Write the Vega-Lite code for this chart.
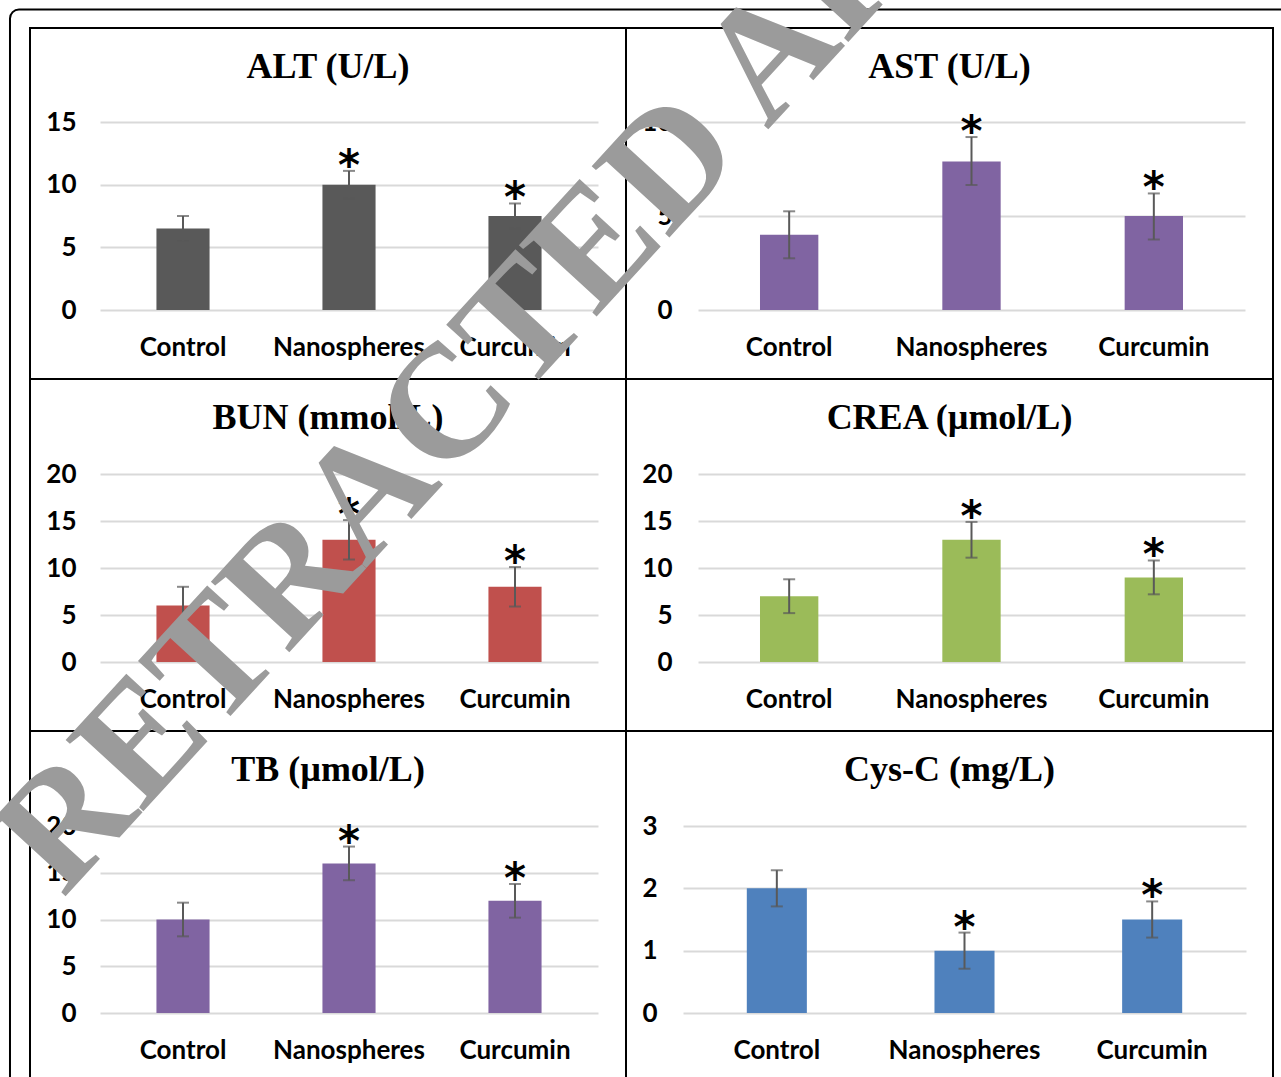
{
  "$schema": "https://vega.github.io/schema/vega-lite/v6.json",
  "autosize": {"type": "none"},
  "padding": {"left": 30, "top": 28, "right": 1251, "bottom": 1049},
  "background": "#ffffff",
  "data": {
    "values": [
      {"panel": "ALT", "group": "Control", "mean": 6.5, "lo": 5.5, "hi": 7.5, "sig": ""},
      {"panel": "ALT", "group": "Nanospheres", "mean": 10, "lo": 8.9, "hi": 11.1, "sig": "*"},
      {"panel": "ALT", "group": "Curcumin", "mean": 7.5, "lo": 6.5, "hi": 8.5, "sig": "*"},
      {"panel": "AST", "group": "Control", "mean": 4, "lo": 2.75, "hi": 5.25, "sig": ""},
      {"panel": "AST", "group": "Nanospheres", "mean": 7.9, "lo": 6.65, "hi": 9.2, "sig": "*"},
      {"panel": "AST", "group": "Curcumin", "mean": 5, "lo": 3.75, "hi": 6.2, "sig": "*"},
      {"panel": "BUN", "group": "Control", "mean": 6, "lo": 4, "hi": 8, "sig": ""},
      {"panel": "BUN", "group": "Nanospheres", "mean": 13, "lo": 10.9, "hi": 15.1, "sig": "*"},
      {"panel": "BUN", "group": "Curcumin", "mean": 8, "lo": 5.9, "hi": 10.1, "sig": "*"},
      {"panel": "CREA", "group": "Control", "mean": 7, "lo": 5.2, "hi": 8.8, "sig": ""},
      {"panel": "CREA", "group": "Nanospheres", "mean": 13, "lo": 11.1, "hi": 14.9, "sig": "*"},
      {"panel": "CREA", "group": "Curcumin", "mean": 9, "lo": 7.2, "hi": 10.8, "sig": "*"},
      {"panel": "TB", "group": "Control", "mean": 10, "lo": 8.2, "hi": 11.8, "sig": ""},
      {"panel": "TB", "group": "Nanospheres", "mean": 16, "lo": 14.2, "hi": 17.8, "sig": "*"},
      {"panel": "TB", "group": "Curcumin", "mean": 12, "lo": 10.2, "hi": 13.8, "sig": "*"},
      {"panel": "Cys-C", "group": "Control", "mean": 2, "lo": 1.71, "hi": 2.29, "sig": ""},
      {"panel": "Cys-C", "group": "Nanospheres", "mean": 1, "lo": 0.71, "hi": 1.29, "sig": "*"},
      {"panel": "Cys-C", "group": "Curcumin", "mean": 1.5, "lo": 1.21, "hi": 1.79, "sig": "*"}
    ]
  },
  "columns": 2,
  "spacing": 0,
  "bounds": "flush",
  "concat": [
    {
      "width": 596, "height": 351,
      "title": "ALT (U/L)",
      "transform": [{"filter": "datum.panel === 'ALT'"}],
      "encoding": {"x": {"field": "group", "type": "nominal", "title": null, "sort": ["Control", "Nanospheres", "Curcumin"], "scale": {"range": [70, 568], "paddingInner": 0.68, "paddingOuter": 0.34}}},
      "layer": [
        {"mark": {"type": "bar", "color": "#595959"},
         "encoding": {"y": {"field": "mean", "type": "quantitative", "title": null, "scale": {"domain": [0, 15], "range": [282, 94], "nice": false}, "axis": {"values": [0, 5, 10, 15]}}}},
        {"mark": {"type": "errorbar", "ticks": true, "size": 12, "thickness": 2, "color": "#595959"},
         "encoding": {"y": {"field": "lo", "type": "quantitative", "title": null}, "y2": {"field": "hi"}}},
        {"mark": {"type": "text", "font": "DejaVu Sans", "fontWeight": "bold", "fontSize": 42, "baseline": "alphabetic", "dy": 9, "color": "#000000"},
         "encoding": {"y": {"field": "hi", "type": "quantitative", "title": null}, "text": {"field": "sig"}}}
      ]
    },
    {
      "width": 647, "height": 351,
      "title": "AST (U/L)",
      "transform": [{"filter": "datum.panel === 'AST'"}],
      "encoding": {"x": {"field": "group", "type": "nominal", "title": null, "sort": ["Control", "Nanospheres", "Curcumin"], "scale": {"range": [72, 619], "paddingInner": 0.68, "paddingOuter": 0.34}}},
      "layer": [
        {"mark": {"type": "bar", "color": "#8064A2"},
         "encoding": {"y": {"field": "mean", "type": "quantitative", "title": null, "scale": {"domain": [0, 10], "range": [282, 94], "nice": false}, "axis": {"values": [0, 5, 10]}}}},
        {"mark": {"type": "errorbar", "ticks": true, "size": 12, "thickness": 2, "color": "#595959"},
         "encoding": {"y": {"field": "lo", "type": "quantitative", "title": null}, "y2": {"field": "hi"}}},
        {"mark": {"type": "text", "font": "DejaVu Sans", "fontWeight": "bold", "fontSize": 42, "baseline": "alphabetic", "dy": 9, "color": "#000000"},
         "encoding": {"y": {"field": "hi", "type": "quantitative", "title": null}, "text": {"field": "sig"}}}
      ]
    },
    {
      "width": 596, "height": 352,
      "title": "BUN (mmol/L)",
      "transform": [{"filter": "datum.panel === 'BUN'"}],
      "encoding": {"x": {"field": "group", "type": "nominal", "title": null, "sort": ["Control", "Nanospheres", "Curcumin"], "scale": {"range": [70, 568], "paddingInner": 0.68, "paddingOuter": 0.34}}},
      "layer": [
        {"mark": {"type": "bar", "color": "#C0504D"},
         "encoding": {"y": {"field": "mean", "type": "quantitative", "title": null, "scale": {"domain": [0, 20], "range": [283, 95], "nice": false}, "axis": {"values": [0, 5, 10, 15, 20]}}}},
        {"mark": {"type": "errorbar", "ticks": true, "size": 12, "thickness": 2, "color": "#595959"},
         "encoding": {"y": {"field": "lo", "type": "quantitative", "title": null}, "y2": {"field": "hi"}}},
        {"mark": {"type": "text", "font": "DejaVu Sans", "fontWeight": "bold", "fontSize": 42, "baseline": "alphabetic", "dy": 9, "color": "#000000"},
         "encoding": {"y": {"field": "hi", "type": "quantitative", "title": null}, "text": {"field": "sig"}}}
      ]
    },
    {
      "width": 647, "height": 352,
      "title": "CREA (µmol/L)",
      "transform": [{"filter": "datum.panel === 'CREA'"}],
      "encoding": {"x": {"field": "group", "type": "nominal", "title": null, "sort": ["Control", "Nanospheres", "Curcumin"], "scale": {"range": [72, 619], "paddingInner": 0.68, "paddingOuter": 0.34}}},
      "layer": [
        {"mark": {"type": "bar", "color": "#9BBB59"},
         "encoding": {"y": {"field": "mean", "type": "quantitative", "title": null, "scale": {"domain": [0, 20], "range": [283, 95], "nice": false}, "axis": {"values": [0, 5, 10, 15, 20]}}}},
        {"mark": {"type": "errorbar", "ticks": true, "size": 12, "thickness": 2, "color": "#595959"},
         "encoding": {"y": {"field": "lo", "type": "quantitative", "title": null}, "y2": {"field": "hi"}}},
        {"mark": {"type": "text", "font": "DejaVu Sans", "fontWeight": "bold", "fontSize": 42, "baseline": "alphabetic", "dy": 9, "color": "#000000"},
         "encoding": {"y": {"field": "hi", "type": "quantitative", "title": null}, "text": {"field": "sig"}}}
      ]
    },
    {
      "width": 596, "height": 351,
      "title": "TB (µmol/L)",
      "transform": [{"filter": "datum.panel === 'TB'"}],
      "encoding": {"x": {"field": "group", "type": "nominal", "title": null, "sort": ["Control", "Nanospheres", "Curcumin"], "scale": {"range": [70, 568], "paddingInner": 0.68, "paddingOuter": 0.34}}},
      "layer": [
        {"mark": {"type": "bar", "color": "#8064A2"},
         "encoding": {"y": {"field": "mean", "type": "quantitative", "title": null, "scale": {"domain": [0, 20], "range": [282, 95], "nice": false}, "axis": {"values": [0, 5, 10, 15, 20]}}}},
        {"mark": {"type": "errorbar", "ticks": true, "size": 12, "thickness": 2, "color": "#595959"},
         "encoding": {"y": {"field": "lo", "type": "quantitative", "title": null}, "y2": {"field": "hi"}}},
        {"mark": {"type": "text", "font": "DejaVu Sans", "fontWeight": "bold", "fontSize": 42, "baseline": "alphabetic", "dy": 9, "color": "#000000"},
         "encoding": {"y": {"field": "hi", "type": "quantitative", "title": null}, "text": {"field": "sig"}}}
      ]
    },
    {
      "width": 647, "height": 351,
      "title": "Cys-C (mg/L)",
      "transform": [{"filter": "datum.panel === 'Cys-C'"}],
      "encoding": {"x": {"field": "group", "type": "nominal", "title": null, "sort": ["Control", "Nanospheres", "Curcumin"], "scale": {"range": [57, 620], "paddingInner": 0.68, "paddingOuter": 0.34}}},
      "layer": [
        {"mark": {"type": "bar", "color": "#4F81BD"},
         "encoding": {"y": {"field": "mean", "type": "quantitative", "title": null, "scale": {"domain": [0, 3], "range": [282, 95], "nice": false}, "axis": {"values": [0, 1, 2, 3], "format": "d", "labelPadding": -31}}}},
        {"mark": {"type": "errorbar", "ticks": true, "size": 12, "thickness": 2, "color": "#595959"},
         "encoding": {"y": {"field": "lo", "type": "quantitative", "title": null}, "y2": {"field": "hi"}}},
        {"mark": {"type": "text", "font": "DejaVu Sans", "fontWeight": "bold", "fontSize": 42, "baseline": "alphabetic", "dy": 9, "color": "#000000"},
         "encoding": {"y": {"field": "hi", "type": "quantitative", "title": null}, "text": {"field": "sig"}}}
      ]
    },
    {
      "width": 596, "height": 1,
      "view": {"stroke": null},
      "data": {"values": [{"note": "overlay"}]},
      "layer": [
        {"mark": {"type": "rect", "filled": false, "stroke": "#000000", "strokeWidth": 2, "cornerRadius": 9, "clip": false},
         "encoding": {
           "x": {"datum": 0.0078, "type": "quantitative", "scale": {"domain": [0, 1], "range": [-30, 1251], "nice": false, "zero": false}, "axis": null},
           "x2": {"datum": 1.02},
           "y": {"datum": 0.0088, "type": "quantitative", "scale": {"domain": [0, 1], "range": [-1082, -5], "nice": false, "zero": false}, "axis": null},
           "y2": {"datum": 1.02}
         }},
        {"mark": {"type": "text", "text": "RETRACTED ARTICLE", "font": "Liberation Serif", "fontWeight": "bold", "fontSize": 161, "angle": 312.5, "align": "left", "baseline": "alphabetic", "color": "#9b9b9b", "clip": false},
         "encoding": {
           "x": {"datum": 0.0492, "type": "quantitative"},
           "y": {"datum": 0.8347, "type": "quantitative"}
         }}
      ]
    }
  ],
  "config": {
    "view": {"stroke": "#000000", "strokeWidth": 2},
    "title": {"font": "Liberation Serif", "fontSize": 36, "fontWeight": "bold", "color": "#000000", "frame": "group", "anchor": "middle", "offset": -58, "baseline": "alphabetic"},
    "axis": {"domain": false, "ticks": false, "tickSize": 0, "labelFont": "Lato", "labelFontWeight": "bold", "labelFontSize": 26, "labelColor": "#000000", "gridColor": "#d9d9d9", "gridWidth": 2},
    "axisX": {"grid": false, "labelAngle": 0, "labelBaseline": "top", "labelPadding": 24, "offset": -69},
    "axisY": {"grid": true, "labelPadding": -46, "labelBaseline": "middle"}
  }
}
